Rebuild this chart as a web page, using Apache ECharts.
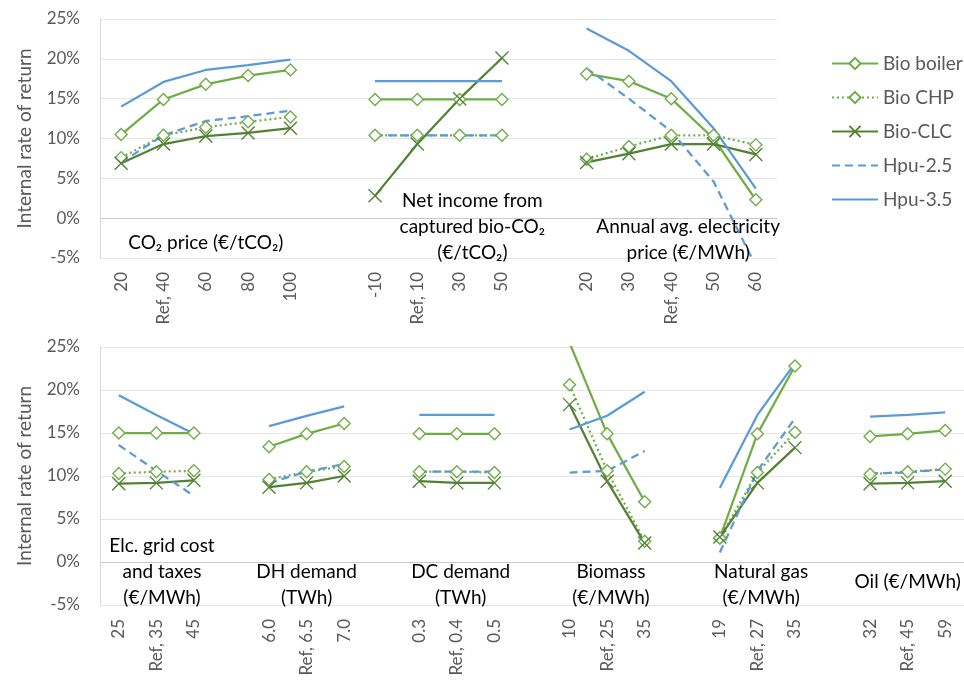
<!DOCTYPE html>
<html>
<head>
<meta charset="utf-8">
<script src="https://cdn.jsdelivr.net/npm/echarts@6/dist/echarts.min.js"></script>
<style>
  html, body { margin: 0; background: #fff; }
  #chart { width: 964px; height: 691px; }
</style>
</head>
<body>
<div id="chart"></div>
<script>
// --- category labels per panel (top row) ---
const co2Price = ['20', 'Ref, 40', '60', '80', '100'];
const netIncome = ['-10', 'Ref, 10', '30', '50'];
const elecPrice = ['20', '30', 'Ref, 40', '50', '60'];

// --- category labels per panel (bottom row) ---
const gridCost = ['25', 'Ref, 35', '45'];
const dhDemand = ['6.0', 'Ref, 6.5', '7.0'];
const dcDemand = ['0.3', 'Ref, 0.4', '0.5'];
const biomass = ['10', 'Ref, 25', '35'];
const natGas = ['19', 'Ref, 27', '35'];
const oil = ['32', 'Ref, 45', '59'];

// --- IRR values (%) top row: [co2Price, netIncome, elecPrice] ---
const bioBoilerTop = [[10.5, 14.9, 16.8, 17.9, 18.6], [14.9, 14.9, 14.9, 14.9], [18.1, 17.2, 15.0, 10.0, 2.3]];
const bioChpTop = [[7.6, 10.4, 11.4, 12.1, 12.7], [10.4, 10.4, 10.4, 10.4], [7.4, 9.0, 10.4, 10.4, 9.2]];
const bioClcTop = [[6.9, 9.3, 10.3, 10.7, 11.3], [2.8, 9.3, 15.0, 20.1], [7.0, 8.1, 9.3, 9.3, 8.0]];
const hpu25Top = [[7.0, 10.4, 12.2, 12.8, 13.5], [10.4, 10.4, 10.4, 10.4], [18.8, 15.0, 10.9, 4.6, -6.0]];
const hpu35Top = [[14.0, 17.1, 18.6, 19.2, 19.9], [17.2, 17.2, 17.2, 17.2], [23.8, 21.0, 17.2, 11.3, 3.7]];

// --- IRR values (%) bottom row: [gridCost, dhDemand, dcDemand, biomass, natGas, oil] ---
const bioBoilerBot = [[15.0, 15.0, 15.0], [13.4, 14.9, 16.1], [14.9, 14.9, 14.9], [25.5, 14.9, 7.0], [2.8, 14.9, 22.8], [14.6, 14.9, 15.3]];
const bioChpBot = [[10.3, 10.5, 10.6], [9.6, 10.5, 11.1], [10.5, 10.5, 10.4], [20.6, 10.6, 2.4], [2.8, 10.4, 15.1], [10.2, 10.5, 10.8]];
const bioClcBot = [[9.1, 9.2, 9.5], [8.7, 9.2, 10.0], [9.4, 9.2, 9.2], [18.3, 9.4, 2.2], [2.9, 9.2, 13.3], [9.1, 9.2, 9.4]];
const hpu25Bot = [[13.6, 10.6, 7.7], [9.2, 10.5, 11.4], [10.5, 10.5, 10.5], [10.4, 10.6, 12.9], [1.1, 10.6, 16.7], [10.3, 10.4, 10.8]];
const hpu35Bot = [[19.4, 17.1, 14.9], [15.8, 17.0, 18.1], [17.1, 17.1, 17.1], [15.4, 17.0, 19.8], [8.6, 17.1, 23.1], [16.9, 17.1, 17.4]];

const seriesNames = ['Bio boiler', 'Bio CHP', 'Bio-CLC', 'Hpu-2.5', 'Hpu-3.5'];

const GREEN = '#70AD47';
const DARK_GREEN = '#548235';
const BLUE = '#5B9BD5';
const GREY = '#595959';
const FONT = 'Lato, "DejaVu Sans", sans-serif';

const styles = {
  'Bio boiler': { color: GREEN, type: 'solid', symbol: 'diamond', size: 12, fill: '#fff' },
  'Bio CHP': { color: GREEN, type: [2, 3], symbol: 'diamond', size: 12, fill: '#fff' },
  'Bio-CLC': { color: DARK_GREEN, type: 'solid', symbol: 'path://M0,0L10,10M10,0L0,10', size: 13, fill: DARK_GREEN },
  'Hpu-2.5': { color: BLUE, type: [8, 5], symbol: 'none' },
  'Hpu-3.5': { color: BLUE, type: 'solid', symbol: 'none' },
};

// join panels with one empty category between them
const joinPanels = (groups) => groups.flatMap((g, i) => (i ? [null, ...g] : g));

const topLabels = joinPanels([co2Price, netIncome, elecPrice]).map((v) => v || '');
const botLabels = joinPanels([gridCost, dhDemand, dcDemand, biomass, natGas, oil]).map((v) => v || '');

const topData = { 'Bio boiler': bioBoilerTop, 'Bio CHP': bioChpTop, 'Bio-CLC': bioClcTop, 'Hpu-2.5': hpu25Top, 'Hpu-3.5': hpu35Top };
const botData = { 'Bio boiler': bioBoilerBot, 'Bio CHP': bioChpBot, 'Bio-CLC': bioClcBot, 'Hpu-2.5': hpu25Bot, 'Hpu-3.5': hpu35Bot };

function makeSeries(name, gridIdx, groups) {
  const s = styles[name];
  return {
    name,
    type: 'line',
    xAxisIndex: gridIdx,
    yAxisIndex: gridIdx,
    data: joinPanels(groups),
    connectNulls: false,
    clip: true,
    symbol: s.symbol,
    symbolSize: s.size || 0,
    showSymbol: s.symbol !== 'none',
    lineStyle: { color: s.color, width: 2.25, type: s.type, cap: 'butt' },
    itemStyle: { color: s.fill || s.color, borderColor: s.color, borderWidth: 1.4 },
    emphasis: { disabled: true },
  };
}

function xAxis(gridIdx, labels) {
  return {
    type: 'category',
    gridIndex: gridIdx,
    data: labels.map((_, i) => 'c' + i),
    boundaryGap: true,
    axisLine: { show: false, onZero: false },
    axisTick: { show: false },
    splitLine: { show: false },
    axisLabel: {
      interval: 0,
      rotate: 90,
      margin: 14,
      color: GREY,
      fontFamily: FONT,
      fontSize: 17,
      formatter: (v, i) => labels[i],
    },
  };
}

function yAxis(gridIdx) {
  return {
    type: 'value',
    gridIndex: gridIdx,
    min: -5,
    max: 25,
    interval: 5,
    name: 'Internal rate of return',
    nameLocation: 'middle',
    nameGap: 66,
    nameTextStyle: { color: GREY, fontFamily: FONT, fontSize: 19 },
    axisLine: { show: true, lineStyle: { color: '#d9d9d9', width: 1 } },
    axisTick: { show: false },
    axisLabel: { color: GREY, fontFamily: FONT, fontSize: 17, margin: 20, formatter: '{value}%' },
    splitLine: {
      lineStyle: { color: ['#e6e6e6', '#c9c9c9', '#e6e6e6', '#e6e6e6', '#e6e6e6', '#e6e6e6', '#e6e6e6'], width: 1 },
    },
  };
}

// line-only legend entries (no marker) for the heat-pump series
const hidden = 'rgba(0,0,0,0)';
const legendData = seriesNames.map((n) =>
  styles[n].symbol === 'none'
    ? { name: n, itemStyle: { color: hidden, borderColor: hidden, borderWidth: 0 } }
    : { name: n }
);

const chart = echarts.init(document.getElementById('chart'), null, { renderer: 'canvas' });

chart.setOption({
  animation: false,
  textStyle: { fontFamily: FONT },
  grid: [
    { left: 100, top: 19, width: 677, height: 239 },
    { left: 100, top: 347, width: 864, height: 258 },
  ],
  xAxis: [xAxis(0, topLabels), xAxis(1, botLabels)],
  yAxis: [yAxis(0), yAxis(1)],
  legend: {
    orient: 'vertical',
    left: 826,
    top: 49,
    itemWidth: 46,
    itemHeight: 14,
    itemGap: 15,
    data: legendData,
    textStyle: { color: GREY, fontFamily: FONT, fontSize: 19 },
    selectedMode: false,
  },
  series: [
    ...seriesNames.map((n) => makeSeries(n, 0, topData[n])),
    ...seriesNames.map((n) => makeSeries(n, 1, botData[n])),
  ],
});

// panel captions, placed via the chart's own axes: [grid, category index, value, text]
const captions = [
  [0, 2.0, -3.1, 'CO₂ price (€/tCO₂)'],
  [0, 8.3, -1.1, 'Net income from\ncaptured bio-CO₂\n(€/tCO₂)'],
  [0, 13.4, -2.75, 'Annual avg. electricity\nprice (€/MWh)'],
  [1, 1.15, -1.15, 'Elc. grid cost\nand taxes\n(€/MWh)'],
  [1, 5.0, -2.65, 'DH demand\n(TWh)'],
  [1, 9.1, -2.65, 'DC demand\n(TWh)'],
  [1, 13.1, -2.65, 'Biomass\n(€/MWh)'],
  [1, 17.1, -2.7, 'Natural gas\n(€/MWh)'],
  [1, 21.0, -2.3, 'Oil (€/MWh)'],
];

function at(g, idx, val) {
  const a = chart.convertToPixel({ gridIndex: g }, [0, val]);
  const b = chart.convertToPixel({ gridIndex: g }, [1, val]);
  return [a[0] + idx * (b[0] - a[0]), a[1]];
}

chart.setOption({
  graphic: captions.map(([g, idx, val, text]) => {
    const [x, y] = at(g, idx, val);
    return {
      type: 'text',
      silent: true,
      z: 10,
      style: {
        text,
        x,
        y,
        align: 'center',
        verticalAlign: 'middle',
        fill: '#000',
        fontFamily: FONT,
        fontSize: 19,
        lineHeight: 26,
      },
    };
  }),
});
</script>
</body>
</html>
